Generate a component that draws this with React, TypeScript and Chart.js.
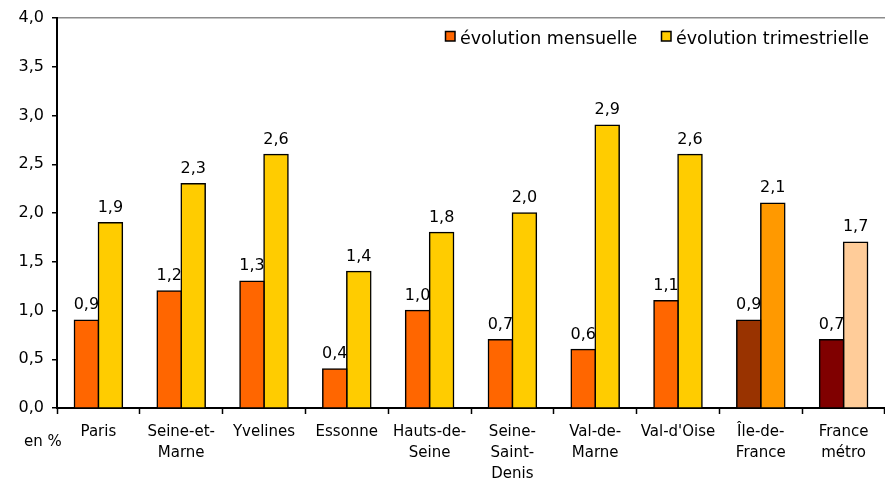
import React, { useEffect, useRef } from "react";
import { Chart, registerables } from "chart.js";

Chart.register(...registerables);

const categories: (string | string[])[] = [
  "Paris",
  ["Seine-et-", "Marne"],
  "Yvelines",
  "Essonne",
  ["Hauts-de-", "Seine"],
  ["Seine-", "Saint-", "Denis"],
  ["Val-de-", "Marne"],
  "Val-d'Oise",
  ["Île-de-", "France"],
  ["France", "métro"],
];
const mensuelle = [0.9, 1.2, 1.3, 0.4, 1.0, 0.7, 0.6, 1.1, 0.9, 0.7];
const trimestrielle = [1.9, 2.3, 2.6, 1.4, 1.8, 2.0, 2.9, 2.6, 2.1, 1.7];
const mensuelleColors = ["#FF6600", "#FF6600", "#FF6600", "#FF6600", "#FF6600", "#FF6600", "#FF6600", "#FF6600", "#993300", "#800000"];
const trimestrielleColors = ["#FFCC00", "#FFCC00", "#FFCC00", "#FFCC00", "#FFCC00", "#FFCC00", "#FFCC00", "#FFCC00", "#FF9900", "#FFCC99"];
const legendLabels = ["évolution mensuelle", "évolution trimestrielle"];
const yTicks = [0, 0.5, 1, 1.5, 2, 2.5, 3, 3.5, 4];

const FONT = "'DejaVu Sans', sans-serif";
const fmt = (v: number) => v.toFixed(1).replace(".", ",");

const overlayPlugin = {
  id: "overlay",
  afterDatasetsDraw(chart: any) {
    const ctx = chart.ctx;
    ctx.save();
    ctx.fillStyle = "#000";
    ctx.font = `16px ${FONT}`;
    ctx.textAlign = "center";
    ctx.textBaseline = "bottom";
    chart.data.datasets.forEach((ds: any, di: number) => {
      const meta = chart.getDatasetMeta(di);
      meta.data.forEach((bar: any, i: number) => {
        ctx.fillText(fmt(ds.data[i]), bar.x, bar.y - 7);
      });
    });
    // "en %"
    ctx.font = `15px ${FONT}`;
    ctx.textAlign = "left";
    ctx.textBaseline = "middle";
    ctx.fillText("en %", 24, 442);
    // legend
    const items = [
      { x: 445, color: "#FF6600", label: legendLabels[0] },
      { x: 661, color: "#FFCC00", label: legendLabels[1] },
    ];
    ctx.font = `17.5px ${FONT}`;
    items.forEach((it) => {
      ctx.fillStyle = it.color;
      ctx.fillRect(it.x, 31, 10, 10);
      ctx.strokeStyle = "#000";
      ctx.lineWidth = 1.5;
      ctx.strokeRect(it.x + 0.5, 31.5, 9.5, 9.5);
      ctx.fillStyle = "#000";
      ctx.fillText(it.label, it.x + 15, 39);
    });
    ctx.restore();
  },
};

export default function App() {
  const ref = useRef<HTMLCanvasElement>(null);
  useEffect(() => {
    if (!ref.current) return;
    const chart = new Chart(ref.current, {
      type: "bar",
      data: {
        labels: categories,
        datasets: [
          {
            label: legendLabels[0],
            data: mensuelle,
            backgroundColor: mensuelleColors,
            borderColor: "#000",
            borderWidth: 1.5,
            inflateAmount: 0.75,
          },
          {
            label: legendLabels[1],
            data: trimestrielle,
            backgroundColor: trimestrielleColors,
            borderColor: "#000",
            borderWidth: 1.5,
            inflateAmount: 0.75,
          },
        ],
      },
      options: {
        animation: false,
        responsive: false,
        maintainAspectRatio: false,
        layout: { padding: { top: 18, right: 0, left: 0, bottom: 0 } },
        datasets: { bar: { categoryPercentage: 0.58, barPercentage: 1 } },
        plugins: {
          legend: { display: false },
          tooltip: { enabled: false },
        },
        scales: {
          x: {
            grid: {
              offset: true,
              drawOnChartArea: false,
              color: "#000",
              tickColor: "#000",
              tickLength: 6,
              tickWidth: 1.5,
            },
            border: { color: "#000", width: 2 },
            ticks: {
              color: "#000",
              font: { family: FONT, size: 15, lineHeight: 1.4 },
              maxRotation: 0,
              autoSkip: false,
              padding: 8,
            },
            afterFit(scale: any) {
              scale.height = 73;
            },
          },
          y: {
            min: 0,
            max: 4,
            afterBuildTicks(scale: any) {
              scale.ticks = yTicks.map((v) => ({ value: v }));
            },
            grid: {
              color: (c: any) => (c.tick && c.tick.value === 4 ? "#8c8c8c" : "rgba(0,0,0,0)"),
              tickColor: "#000",
              tickLength: 5,
              tickWidth: 1.5,
              lineWidth: 1.5,
            },
            border: { color: "#000", width: 2 },
            ticks: {
              color: "#000",
              font: { family: FONT, size: 16 },
              padding: 8,
              callback: (v: any) => fmt(Number(v)),
            },
            afterFit(scale: any) {
              scale.width = 57;
            },
          },
        },
      },
      plugins: [overlayPlugin],
    });
    return () => chart.destroy();
  }, []);
  return (
    <div style={{ position: "absolute", left: 0, top: 0, width: 885, height: 481, background: "#fff" }}>
      <canvas ref={ref} width={885} height={481} style={{ width: 885, height: 481, display: "block" }} />
    </div>
  );
}
